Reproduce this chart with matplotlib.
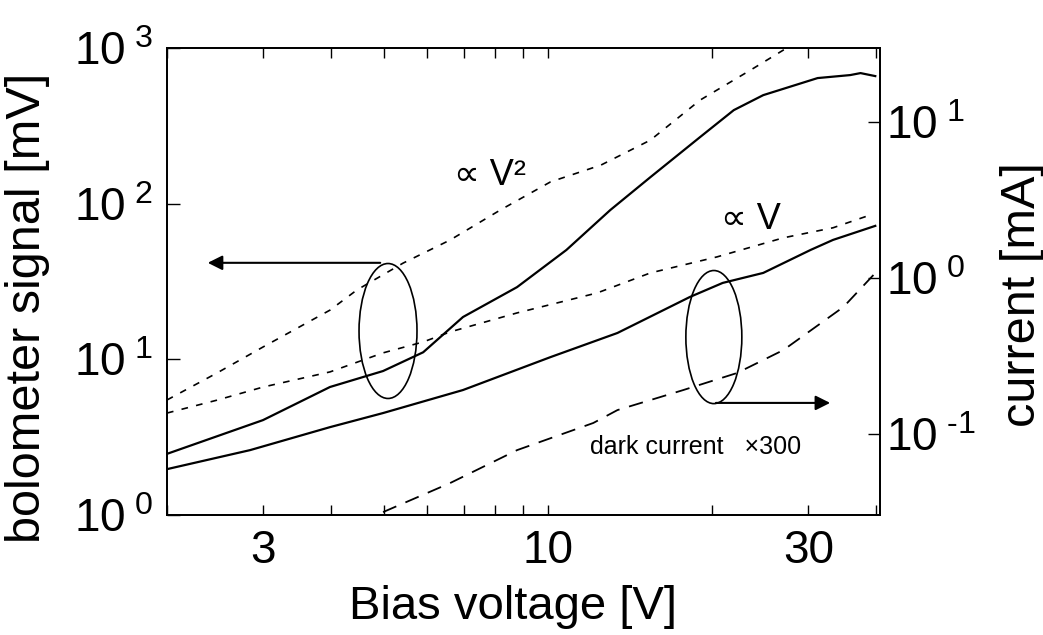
import matplotlib
matplotlib.use("Agg")
import matplotlib.pyplot as plt
from matplotlib.patches import Ellipse
from matplotlib.ticker import FixedLocator, FixedFormatter, NullFormatter

plt.rcParams['font.family'] = ['Liberation Sans', 'DejaVu Sans']
plt.rcParams['mathtext.fontset'] = 'custom'
plt.rcParams['mathtext.rm'] = 'Liberation Sans'
plt.rcParams['mathtext.it'] = 'Liberation Sans:italic'
plt.rcParams['mathtext.bf'] = 'Liberation Sans:bold'

# bolometer signal [mV] (left axis)
bolo_v = [2.00, 3.00, 3.98, 4.98, 5.90, 6.98, 8.77, 10.8, 13.0, 15.4, 19.0, 21.9, 24.8, 31.2, 35.8, 37.4, 39.8]
bolo_mv = [2.47, 4.07, 6.64, 8.41, 11.1, 18.7, 29.1, 50.4, 91, 148, 268, 399, 498, 641, 670, 690, 660]

# reference line ~ V^2 [mV] (left axis)
v2_v = [2.00, 2.47, 3.00, 3.98, 4.46, 5.42, 6.61, 8.17, 10.1, 12.5, 15.4, 19.0, 23.5, 27.0, 29.0]
v2_mv = [5.48, 8.17, 12.0, 20.7, 27.9, 41.5, 58.4, 91, 138, 177, 256, 463, 721, 970, 1100]

# current [mA] (right axis)
cur_v = [2.00, 2.84, 3.98, 4.98, 6.98, 10.1, 13.4, 18.2, 20.9, 24.8, 30.3, 33.3, 39.8]
cur_ma = [0.0591, 0.0783, 0.110, 0.1355, 0.1905, 0.310, 0.443, 0.755, 0.929, 1.077, 1.514, 1.755, 2.16]

# reference line ~ V [mA] (right axis)
v1_v = [2.00, 2.47, 3.00, 3.98, 4.98, 5.90, 6.61, 8.77, 12.3, 15.4, 20.4, 27.0, 33.3, 39.0]
v1_ma = [0.1355, 0.164, 0.199, 0.249, 0.330, 0.388, 0.450, 0.596, 0.801, 1.077, 1.365, 1.81, 2.10, 2.54]

# dark current x300 [mA] (right axis)
dark_v = [4.98, 6.61, 8.77, 12.1, 13.4, 17.7, 22.2, 27.0, 34.8, 39.5]
dark_ma = [0.0313, 0.0481, 0.0783, 0.117, 0.1416, 0.1905, 0.245, 0.344, 0.651, 1.045]

x_ticks = [3, 10, 30]
x_minor = [2, 4, 5, 6, 7, 8, 9, 20, 40]
left_ticks = [1, 10, 100, 1000]
left_labels = [r'$\mathregular{10^{\ 0}}$', r'$\mathregular{10^{\ 1}}$',
               r'$\mathregular{10^{\ 2}}$', r'$\mathregular{10^{\ 3}}$']
right_ticks = [0.1, 1, 10]
right_labels = [r'$\mathregular{10^{\ \text{-}1}}$', r'$\mathregular{10^{\ 0}}$',
                r'$\mathregular{10^{\ 1}}$']

fig = plt.figure(figsize=(10.43, 6.35), dpi=100)
ax = fig.add_axes([0.1601, 0.189, 0.6836, 0.7354])
ax2 = ax.twinx()

ax.plot(bolo_v, bolo_mv, color='black', lw=1.6)
ax.plot(v2_v, v2_mv, color='black', lw=1.2, dashes=(4, 5))
ax2.plot(cur_v, cur_ma, color='black', lw=1.6)
ax2.plot(v1_v, v1_ma, color='black', lw=1.2, dashes=(4, 5))
ax2.plot(dark_v, dark_ma, color='black', lw=1.3, dashes=(8, 5.5))

ax.set_xscale('log')
ax.set_yscale('log')
ax2.set_yscale('log')
ax.set_xlim(2.0, 40.6)
ax.set_ylim(1, 1000)
ax2.set_ylim(0.03, 30)

ax.xaxis.set_major_locator(FixedLocator(x_ticks))
ax.xaxis.set_major_formatter(FixedFormatter([str(t) for t in x_ticks]))
ax.xaxis.set_minor_locator(FixedLocator(x_minor))
ax.xaxis.set_minor_formatter(NullFormatter())
ax.yaxis.set_major_locator(FixedLocator(left_ticks))
ax.yaxis.set_major_formatter(FixedFormatter(left_labels))
ax.yaxis.set_minor_locator(FixedLocator([]))
ax2.yaxis.set_major_locator(FixedLocator(right_ticks))
ax2.yaxis.set_major_formatter(FixedFormatter(right_labels))
ax2.yaxis.set_minor_locator(FixedLocator([]))

ax.tick_params(axis='x', which='both', direction='in', top=True, length=7, width=1.0,
               labelsize=33, pad=10)
ax.tick_params(axis='y', which='both', direction='in', length=9, width=1.0, labelsize=33, pad=10)
ax2.tick_params(axis='y', which='both', direction='in', length=9, width=1.0, labelsize=33, pad=4)

for a in (ax, ax2):
    for s in a.spines.values():
        s.set_linewidth(1.3)

ax.set_xlabel('Bias voltage [V]', fontsize=34)
ax.xaxis.set_label_coords(0.485, -0.150)
ax.set_ylabel('bolometer signal [mV]', fontsize=35)
ax.yaxis.set_label_coords(-0.164, 0.443)
ax2.set_ylabel('current [mA]', fontsize=35)
ax2.yaxis.set_label_coords(1.168, 0.471)

# ellipses and arrows pointing to the axes
ax.add_patch(Ellipse((0.310, 0.394), 0.0813, 0.289, transform=ax.transAxes,
                     fill=False, edgecolor='black', lw=1.2))
ax.add_patch(Ellipse((0.767, 0.381), 0.0785, 0.285, transform=ax.transAxes,
                     fill=False, edgecolor='black', lw=1.2))
ax.annotate('', xy=(0.0533, 0.540), xytext=(0.303, 0.540), xycoords='axes fraction',
            arrowprops=dict(arrowstyle='-|>', color='black', lw=1.5, mutation_scale=22))
ax.annotate('', xy=(0.934, 0.240), xytext=(0.766, 0.240), xycoords='axes fraction',
            arrowprops=dict(arrowstyle='-|>', color='black', lw=1.5, mutation_scale=22))

ax.text(0.453, 0.728, '\u221d V\u00b2', transform=ax.transAxes, fontsize=26,
        ha='center', va='center')
ax.text(0.819, 0.632, '\u221d V', transform=ax.transAxes, fontsize=26,
        ha='center', va='center')
ax.text(0.741, 0.146, 'dark current   \u00d7300', transform=ax.transAxes, fontsize=18,
        ha='center', va='center')

fig.savefig('out.png', dpi=100, facecolor='white')
